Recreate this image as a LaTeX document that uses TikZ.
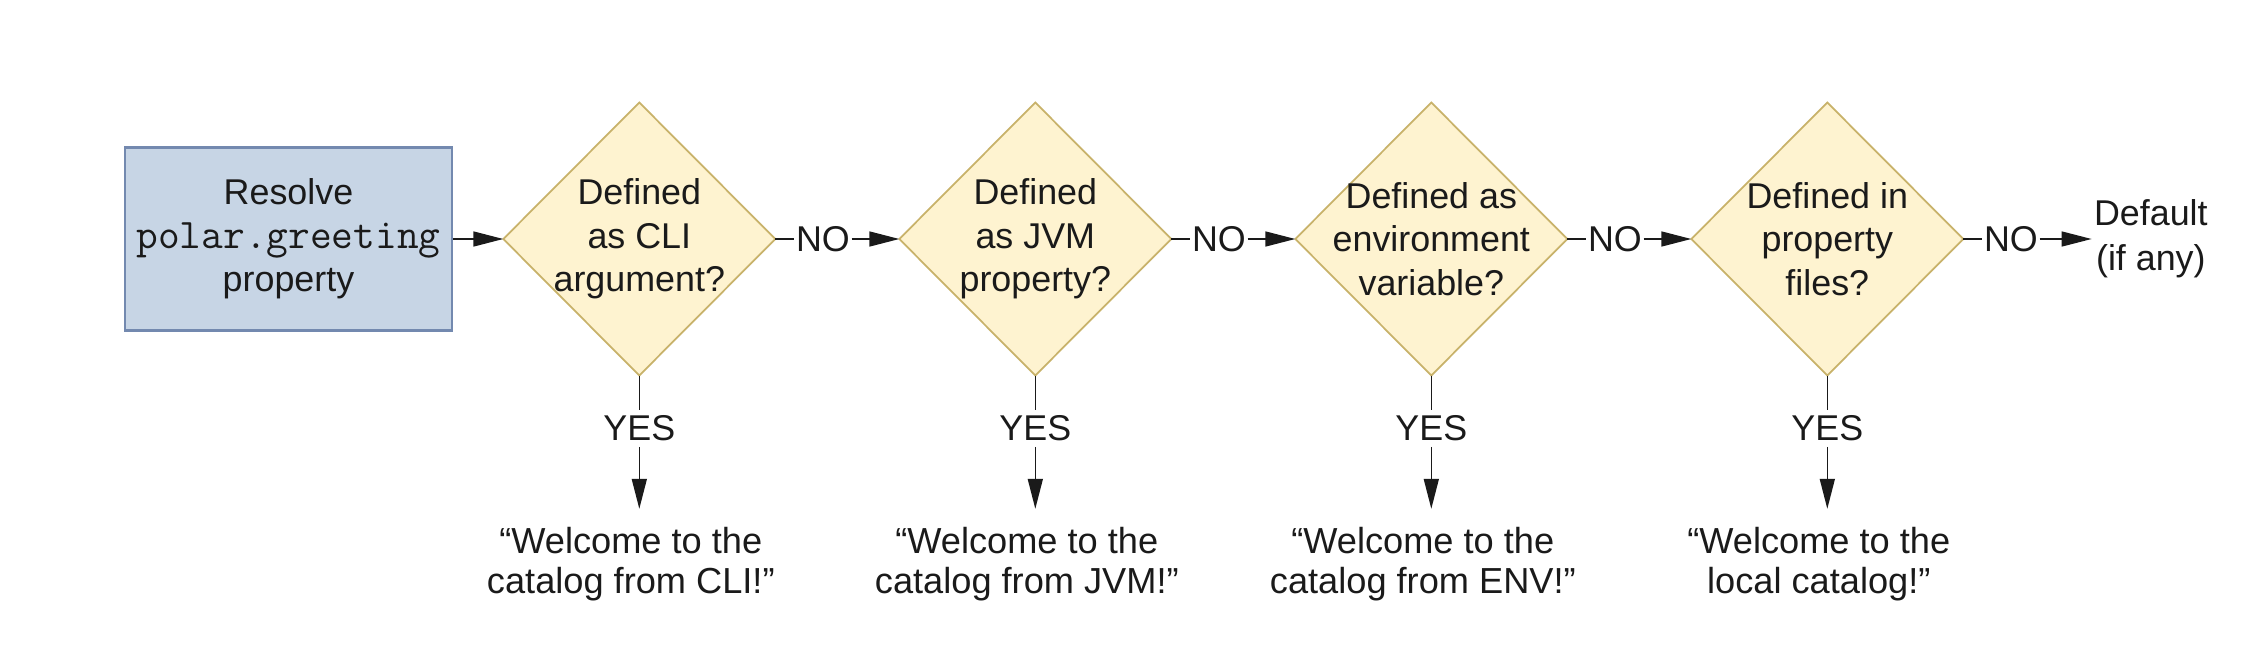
\documentclass[tikz,border=0pt]{standalone}
\usepackage{fontspec}
\setmainfont{Liberation Sans}
\usetikzlibrary{shapes.geometric,arrows.meta,positioning}
\definecolor{boxfill}{RGB}{199,213,229}
\definecolor{boxline}{RGB}{115,137,175}
\definecolor{askfill}{RGB}{254,243,208}
\definecolor{askline}{RGB}{200,178,106}
\definecolor{ink}{RGB}{26,26,26}
\begin{document}
\begin{tikzpicture}
[every node/.style={text=ink, align=center, font=\fontsize{10.2}{12.4}\selectfont},
 start/.style={rectangle, draw=boxline, fill=boxfill, line width=0.6pt,
   minimum width=3.27cm, minimum height=1.83cm},
 ask/.style={diamond, draw=askline, fill=askfill, line width=0.5pt,
   minimum width=2.72cm, minimum height=2.73cm, inner sep=0pt, outer sep=0pt},
 answer/.style={inner sep=0.3pt},
 yesbox/.style={inner sep=1.5pt},
 result/.style={inner xsep=2pt, inner ysep=5pt, xshift=-0.085cm,
   font=\fontsize{10.3}{11.4}\selectfont},
 link/.style={draw=ink, line width=0.45pt},
 arr/.style={link, -{Triangle[length=3mm,width=1.5mm]}}]
\useasboundingbox (0,0) rectangle (22.62,6.66);
\node [start] (resolve) at (2.885,4.27)
  {Resolve\\{\fontsize{12}{12.6}\selectfont\ttfamily polar.greeting}\\property};
% the four checks, left to right
\node [ask, right=0.50cm of resolve, label={center:Defined\\as CLI\\argument?}] (cli) {};
\node [answer, right=0.19cm of cli] (no1) {NO};
\node [ask, right=1.24cm of cli, label={center:Defined\\as JVM\\property?}] (jvm) {};
\node [answer, right=0.19cm of jvm] (no2) {NO};
\node [ask, right=1.24cm of jvm, label={center:Defined as\\environment\\variable?}] (env) {};
\node [answer, right=0.19cm of env] (no3) {NO};
\node [ask, right=1.24cm of env, label={center:Defined in\\property\\files?}] (file) {};
\node [answer, right=0.19cm of file] (no4) {NO};
\node [inner sep=0.5pt, font=\fontsize{10.2}{12.8}\selectfont, right=0.52cm of no4] (default)
  {Default\\(if any)};
% yes branches
\node [yesbox, below=0.34cm of cli] (yes1) {YES};
\node [yesbox, below=0.34cm of jvm] (yes2) {YES};
\node [yesbox, below=0.34cm of env] (yes3) {YES};
\node [yesbox, below=0.34cm of file] (yes4) {YES};
\node [result, below=0.62cm of yes1] (msg1) {“Welcome to the\\catalog from CLI!”};
\node [result, below=0.62cm of yes2] (msg2) {“Welcome to the\\catalog from JVM!”};
\node [result, below=0.62cm of yes3] (msg3) {“Welcome to the\\catalog from ENV!”};
\node [result, below=0.62cm of yes4] (msg4) {“Welcome to the\\local catalog!”};

\draw [arr] (resolve) -- (cli);
\draw [link] (cli) -- (no1);
\draw [arr] (no1) -- (jvm);
\draw [link] (jvm) -- (no2);
\draw [arr] (no2) -- (env);
\draw [link] (env) -- (no3);
\draw [arr] (no3) -- (file);
\draw [link] (file) -- (no4);
\draw [arr] (no4) -- (default);
\draw [link] (cli) -- (yes1);
\draw [arr] (yes1) -- (yes1 |- msg1.north);
\draw [link] (jvm) -- (yes2);
\draw [arr] (yes2) -- (yes2 |- msg2.north);
\draw [link] (env) -- (yes3);
\draw [arr] (yes3) -- (yes3 |- msg3.north);
\draw [link] (file) -- (yes4);
\draw [arr] (yes4) -- (yes4 |- msg4.north);
\end{tikzpicture}
\end{document}
